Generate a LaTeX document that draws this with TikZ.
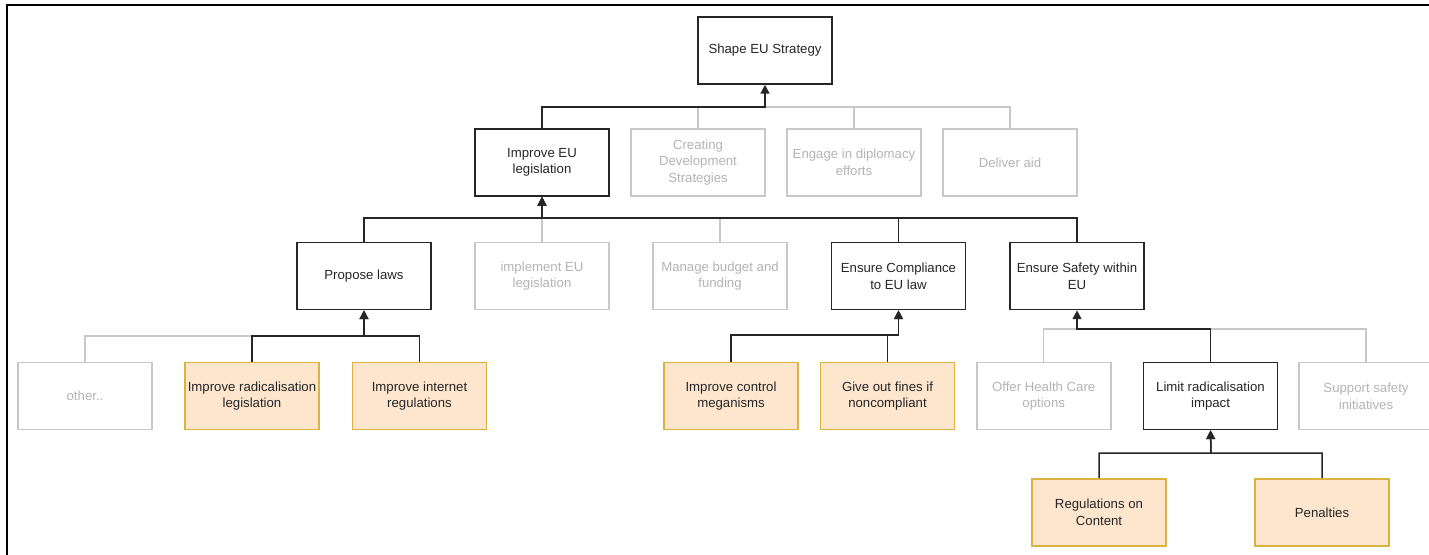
\documentclass[tikz,border=0pt]{standalone}
\usepackage{fontspec}
\setmainfont{Liberation Sans}
\usetikzlibrary{arrows.meta}
\definecolor{inkc}{HTML}{262626}
\definecolor{fadetext}{HTML}{B4B4B4}
\definecolor{fadeline}{HTML}{C8C8C8}
\definecolor{taskfill}{HTML}{FDE6CD}
\definecolor{taskline}{HTML}{D9B440}
\tikzset{
  goal/.style={draw=inkc, line width=0.8pt, minimum width=67pt, minimum height=33.5pt,
    inner sep=0pt, align=center, text=inkc, font=\fontsize{6.6}{8.3}\selectfont},
  faded/.style={goal, draw=fadeline, text=fadetext},
  task/.style={goal, draw=taskline, fill=taskfill},
  link/.style={draw=inkc, line width=0.75pt},
  arrowlink/.style={link, -{Triangle[length=4.4pt,width=4.4pt]}},
  fadelink/.style={draw=fadeline, line width=0.75pt},
}
\begin{document}
\begin{tikzpicture}[x=0.5pt, y=-0.5pt]
\useasboundingbox (0,0) rectangle (1429,555);
\clip (0,0) rectangle (1429,555);
\fill[white] (0,0) rectangle (1429,555);

% outer frame (left and top edges)
\draw[line width=1.2pt, black] (7,560) -- (7,5) -- (1435,5);

% level 1
\node[goal] (shape) at (765,50.5) {Shape EU Strategy};

% level 2
\node[goal]  (imp) at (542,162.5) {Improve EU\\legislation};
\node[faded] (cds) at (698,162.5) {Creating\\Development\\Strategies};
\node[faded] (dip) at (854,162.5) {Engage in diplomacy\\efforts};
\node[faded] (aid) at (1010,162.5) {Deliver aid};

% level 3
\node[goal]  (prop) at (364,276) {Propose laws};
\node[faded] (impl) at (542,276) {implement EU\\legislation};
\node[faded] (bud)  at (720,276) {Manage budget and\\funding};
\node[goal]  (comp) at (898.5,276) {Ensure Compliance\\to EU law};
\node[goal]  (safe) at (1077,276) {Ensure Safety within\\EU};

% level 4
\node[faded] (oth) at (85,396) {other..};
\node[task]  (rad) at (252,396) {Improve radicalisation\\legislation};
\node[task]  (net) at (419.5,396) {Improve internet\\regulations};
\node[task]  (ctl) at (731,396) {Improve control\\meganisms};
\node[task]  (fin) at (887.5,396) {Give out fines if\\noncompliant};
\node[faded] (hc)  at (1043.7,396) {Offer Health Care\\options};
\node[goal]  (lim) at (1210.5,396) {Limit radicalisation\\impact};
\node[faded] (sup) at (1366,396) {Support safety\\initiatives};

% level 5
\node[task] (reg) at (1099,512.5) {Regulations on\\Content};
\node[task] (pen) at (1322,512.5) {Penalties};

% bus junctions under each parent
\coordinate (b1) at (765,107);
\coordinate (b2) at (542,218);
\coordinate (b3) at (364,336);
\coordinate (b4) at (898.5,335);
\coordinate (b5) at (1077,329);
\coordinate (b6) at (1211,453);

% inactive connectors
\draw[fadelink] (cds.north) |- (b1);
\draw[fadelink] (dip.north) |- (b1);
\draw[fadelink] (aid.north) |- (b1);
\draw[fadelink] (impl.north) -- (b2);
\draw[fadelink] (bud.north) |- (b2);
\draw[fadelink] (oth.north) |- (b3);
\draw[fadelink] (hc.north) |- (b5);
\draw[fadelink] (sup.north) |- (b5);

% active connectors
\draw[arrowlink] (imp.north) |- (b1) -- (shape.south);
\draw[arrowlink] (prop.north) |- (b2) -- (imp.south);
\draw[arrowlink] (comp.north) |- (b2) -- (imp.south);
\draw[arrowlink] (safe.north) |- (b2) -- (imp.south);
\draw[arrowlink] (rad.north) |- (b3) -- (prop.south);
\draw[arrowlink] (net.north) |- (b3) -- (prop.south);
\draw[arrowlink] (ctl.north) |- (b4) -- (comp.south);
\draw[arrowlink] (fin.north) |- (b4) -- (comp.south);
\draw[arrowlink] (lim.north) |- (b5) -- (safe.south);
\draw[arrowlink] (reg.north) |- (b6) -- (lim.south);
\draw[arrowlink] (pen.north) |- (b6) -- (lim.south);
\end{tikzpicture}
\end{document}
